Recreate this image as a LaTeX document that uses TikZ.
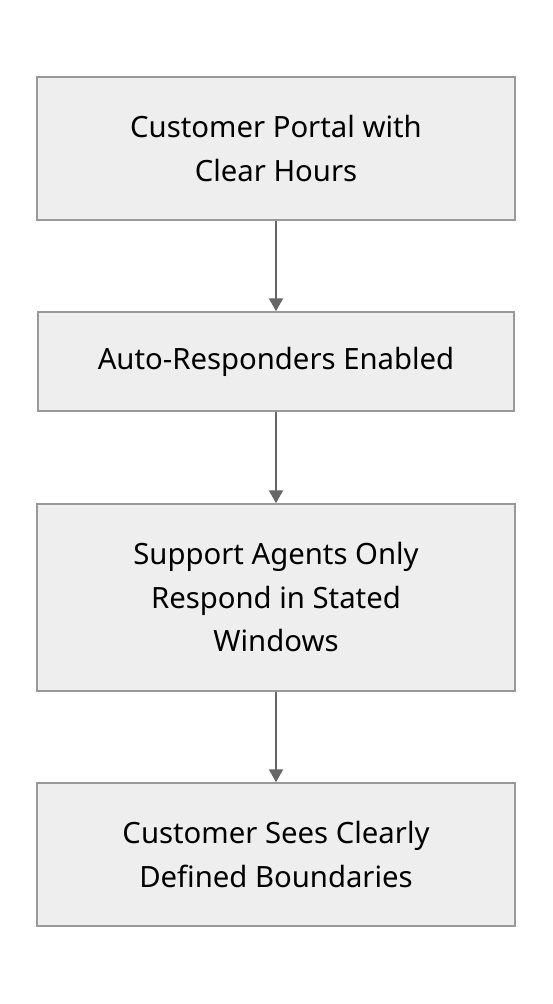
\documentclass[tikz,border=0pt]{standalone}
\usepackage{fontspec}
\setmainfont{Noto Sans}
\usetikzlibrary{arrows.meta}
\definecolor{boxfill}{HTML}{EEEEEE}
\definecolor{boxdraw}{HTML}{999999}
\definecolor{arrowcol}{HTML}{666666}
\tikzset{
  flowbox/.style={draw=boxdraw, fill=boxfill, line width=1.5pt, align=center, font=\fontsize{29.3}{43.5}\selectfont, inner sep=0pt},
  flowarrow/.style={draw=arrowcol, line width=2pt, -{Triangle[length=13pt,width=14pt]}}
}
\begin{document}
\begin{tikzpicture}[x=1pt,y=-1pt]
\useasboundingbox (0,0) rectangle (552,1004);
\fill[white] (0,0) rectangle (552,1004);
\node[flowbox, minimum width=478pt, minimum height=143pt] (a) at (276,148.5) {Customer Portal with\\Clear Hours};
\node[flowbox, minimum width=476pt, minimum height=99pt] (b) at (276,361.5) {Auto-Responders Enabled};
\node[flowbox, minimum width=478pt, minimum height=187pt] (c) at (276,597.5) {Support Agents Only\\Respond in Stated\\Windows};
\node[flowbox, minimum width=478pt, minimum height=143pt] (d) at (276,854.5) {Customer Sees Clearly\\Defined Boundaries};
\draw[flowarrow] (a.south) -- (b.north);
\draw[flowarrow] (b.south) -- (c.north);
\draw[flowarrow] (c.south) -- (d.north);
\end{tikzpicture}
\end{document}
